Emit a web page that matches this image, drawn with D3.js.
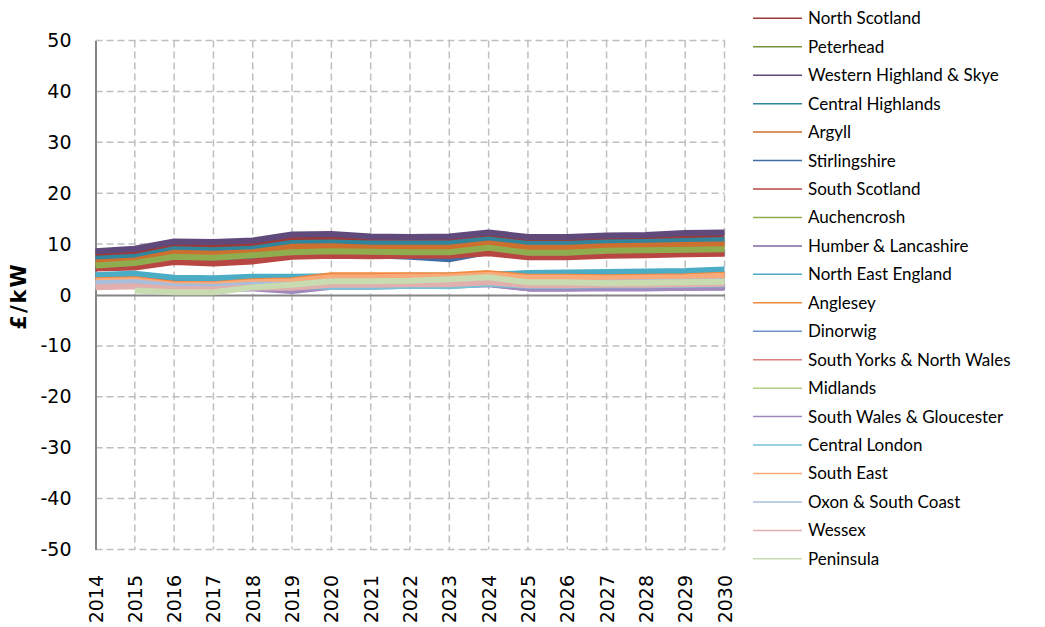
<!DOCTYPE html>
<html><head><meta charset="utf-8">
<script src="https://cdnjs.cloudflare.com/ajax/libs/d3/7.8.5/d3.min.js"></script>
<style>body{margin:0;background:#fff}svg{display:block}</style>
</head><body><div id="chart"></div>
<script>
const years = [2014,2015,2016,2017,2018,2019,2020,2021,2022,2023,2024,2025,2026,2027,2028,2029,2030];
const seriesNames = ["North Scotland","Peterhead","Western Highland & Skye","Central Highlands","Argyll","Stirlingshire","South Scotland","Auchencrosh","Humber & Lancashire","North East England","Anglesey","Dinorwig","South Yorks & North Wales","Midlands","South Wales & Gloucester","Central London","South East","Oxon & South Coast","Wessex","Peninsula"];
const seriesColors = ["#9B3A38","#77933C","#604A7B","#31859C","#CD6F2F","#3F6CA5","#B84744","#8FAD4F","#8064A2","#4BACC6","#F0883E","#6F94C9","#D9827F","#B3CE7E","#9E89BE","#76C2D7","#F8AA7A","#A8BEDD","#E0AFAE","#C9DBB0"];
const northScotland   = [8.0,8.5,9.9,9.8,10.1,11.1,11.2,10.8,10.8,10.8,11.6,10.8,10.8,11.0,11.1,11.5,11.6];
const peterhead       = [6.0,6.5,7.8,7.6,8.0,8.9,9.1,8.9,8.9,8.9,9.6,8.8,8.8,9.1,9.2,9.4,9.5];
const westernHighland = [8.6,9.1,10.5,10.4,10.7,11.9,12.0,11.5,11.4,11.5,12.3,11.4,11.4,11.7,11.8,12.2,12.3];
const centralHighlands= [7.1,7.5,9.0,8.8,9.1,10.2,10.3,10.1,10.1,10.1,10.9,10.0,10.0,10.3,10.4,10.6,10.8];
const argyll          = [6.4,6.8,8.3,8.1,8.4,9.5,9.6,9.3,9.3,9.3,10.1,9.3,9.3,9.6,9.7,9.8,9.9];
const stirlingshire   = [5.3,5.6,6.8,6.5,6.9,7.8,7.9,7.8,7.5,7.0,8.5,7.6,7.6,7.9,8.0,8.2,8.3];
const southScotland   = [5.2,5.4,6.5,6.2,6.6,7.5,7.7,7.6,7.7,7.7,8.2,7.4,7.4,7.7,7.8,8.0,8.1];
const auchencrosh     = [5.8,6.3,7.5,7.3,7.8,8.4,8.6,8.5,8.4,8.4,9.3,8.3,8.3,8.7,8.8,8.9,9.0];
const humberLancs     = [3.0,3.3,2.8,2.7,2.2,1.0,1.8,1.8,1.9,1.9,2.2,1.3,1.3,1.4,1.4,1.4,1.5];
const northEastEngland= [3.9,4.2,3.4,3.3,3.6,3.6,3.7,3.7,3.8,3.8,4.0,4.3,4.4,4.5,4.6,4.7,5.0];
const anglesey        = [2.9,3.1,2.2,2.1,2.7,2.9,3.9,3.9,3.9,3.9,4.3,3.6,3.6,3.5,3.6,3.7,4.0];
const dinorwig        = [2.3,2.4,1.7,1.6,2.0,1.8,2.0,2.0,1.9,2.0,2.4,2.0,2.0,2.1,2.1,2.2,2.3];
const southYorks      = [1.9,2.0,1.4,1.4,1.7,1.6,2.2,2.2,2.4,2.4,2.8,2.2,2.2,2.3,2.3,2.4,2.5];
const midlands        = [2.2,2.4,1.8,1.7,2.2,2.2,2.8,2.8,3.0,3.1,3.5,2.6,2.6,2.5,2.5,2.6,2.8];
const southWales      = [1.8,2.0,1.3,1.2,1.3,0.8,1.6,1.6,1.8,1.8,2.1,1.3,1.3,1.3,1.3,1.4,1.4];
const centralLondon   = [2.1,2.2,1.5,1.4,1.8,1.7,1.6,1.6,1.8,1.7,2.2,1.8,1.8,1.9,1.9,2.0,2.1];
const southEast       = [2.7,2.9,2.0,2.0,2.5,2.7,3.5,3.5,3.6,3.6,4.0,3.4,3.4,3.3,3.4,3.5,3.8];
const oxonSouthCoast  = [2.3,2.5,1.7,1.6,2.0,2.0,2.5,2.5,2.6,2.6,3.0,2.3,2.3,2.4,2.5,2.6,2.7];
const wessex          = [1.5,1.7,1.2,1.1,1.5,1.4,2.0,2.0,2.1,2.1,2.5,1.9,1.9,2.0,2.0,2.1,2.2];
const peninsula       = [null,0.9,0.55,0.55,1.5,2.0,2.7,2.7,2.8,3.1,3.5,2.5,2.5,2.3,2.4,2.5,2.6];
const seriesValues = [northScotland,peterhead,westernHighland,centralHighlands,argyll,stirlingshire,southScotland,auchencrosh,humberLancs,northEastEngland,anglesey,dinorwig,southYorks,midlands,southWales,centralLondon,southEast,oxonSouthCoast,wessex,peninsula];
const yTicks = [-50,-40,-30,-20,-10,0,10,20,30,40,50];
const yTitle = "£/kW";

const W = 1045, H = 627;
const svg = d3.select("#chart").append("svg").attr("width", W).attr("height", H);
const x0 = 95.5, x1 = 724.5, yTop = 40.5, yBot = 549.5;
const x = d3.scalePoint().domain(years).range([x0, x1]);
const y = d3.scaleLinear().domain([-50, 50]).range([yBot, yTop]);

// gridlines
const grid = svg.append("g");
grid.selectAll("line.h").data(yTicks.filter(v => v !== 0)).join("line")
  .attr("x1", x0).attr("x2", x1).attr("y1", d => y(d)).attr("y2", d => y(d))
  .attr("stroke", "#BFBFBF").attr("stroke-width", 1.5).attr("stroke-dasharray", "7,4");
grid.selectAll("line.v").data(years.slice(1)).join("line")
  .attr("x1", d => x(d)).attr("x2", d => x(d)).attr("y1", yTop).attr("y2", yBot)
  .attr("stroke", "#BFBFBF").attr("stroke-width", 1.5).attr("stroke-dasharray", "7,4");

// y axis
const yAxis = svg.append("g").attr("transform", `translate(${x0},0)`)
  .call(d3.axisLeft(y).tickValues(yTicks).tickSize(0).tickPadding(24).tickFormat(d => String(d)));
yAxis.select(".domain").attr("stroke", "#868686").attr("stroke-width", 2);
yAxis.selectAll("text").attr("font-family", "DejaVu Sans").attr("font-size", 19).attr("fill", "#000");

// zero line as x axis
const xAxis = svg.append("g").attr("transform", `translate(0,${y(0)})`)
  .call(d3.axisBottom(x).tickSize(0).tickFormat(""));
xAxis.select(".domain").attr("stroke", "#868686").attr("stroke-width", 2);

// year labels
svg.append("g").selectAll("text").data(years).join("text")
  .attr("transform", d => `translate(${x(d)+7},575) rotate(-90)`)
  .attr("text-anchor", "end")
  .attr("font-family", "DejaVu Sans").attr("font-size", 19).attr("fill", "#000")
  .text(d => d);

// y title
svg.append("text").attr("transform", `translate(26,296) rotate(-90)`)
  .attr("text-anchor", "middle").attr("font-family", "DejaVu Sans").attr("font-weight", "bold")
  .attr("font-size", 21).attr("letter-spacing", 2).text(yTitle);

// lines
const line = d3.line().defined(d => d.v !== null).x(d => x(d.yr)).y(d => y(d.v));
svg.append("g").selectAll("path").data(seriesValues).join("path")
  .attr("d", vals => line(vals.map((v, i) => ({yr: years[i], v}))))
  .attr("fill", "none").attr("stroke", (d, i) => seriesColors[i])
  .attr("stroke-width", 6).attr("stroke-linejoin", "round");

// legend
const lg = svg.append("g");
const rows = lg.selectAll("g").data(seriesNames).join("g")
  .attr("transform", (d, i) => `translate(0,${18.3 + 28.45 * i})`);
rows.append("line").attr("x1", 753).attr("x2", 802).attr("y1", 0).attr("y2", 0)
  .attr("stroke", (d, i) => seriesColors[i]).attr("stroke-width", 1.5);
rows.append("text").attr("x", 808).attr("y", 0).attr("dy", "0.35em")
  .attr("font-family", "Lato").attr("font-size", 17).attr("fill", "#000").text(d => d);
</script></body></html>
